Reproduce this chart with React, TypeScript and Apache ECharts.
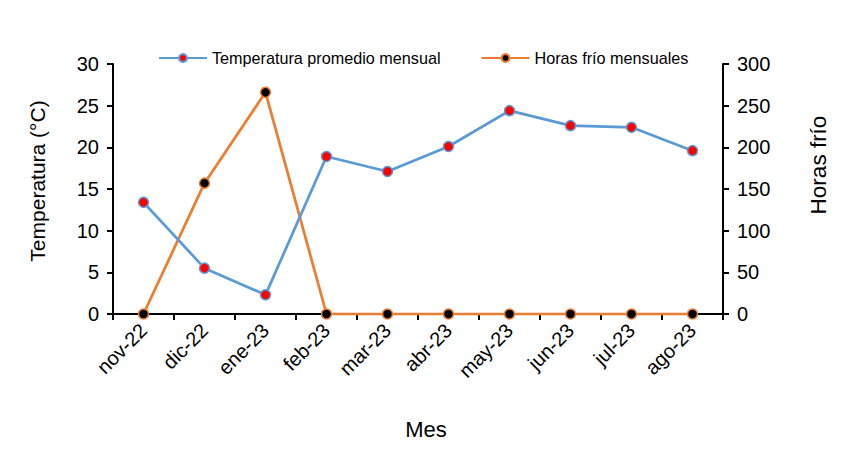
import React, { useEffect, useRef } from "react";
import * as echarts from "echarts";

const months = ["nov-22", "dic-22", "ene-23", "feb-23", "mar-23", "abr-23", "may-23", "jun-23", "jul-23", "ago-23"];
const temperature = [13.4, 5.5, 2.3, 18.9, 17.1, 20.1, 24.4, 22.6, 22.4, 19.6];
const chillHours = [0, 157, 266, 0, 0, 0, 0, 0, 0, 0];

const FONT = "'Liberation Sans', Arial, sans-serif";
const BLUE = "#5B9BD5";
const ORANGE = "#ED7D31";

export default function App() {
  const ref = useRef<HTMLDivElement>(null);

  useEffect(() => {
    if (!ref.current) return;
    const chart = echarts.init(ref.current, undefined, { renderer: "svg" });
    const axisLine = { show: true, lineStyle: { color: "#000", width: 2 } };
    const axisTick = { show: true, length: 6, lineStyle: { color: "#000", width: 2 } };
    const tickLabel = { fontFamily: FONT, fontSize: 20, color: "#000" };
    const titleStyle = (text: string, size: number) => ({
      text,
      fontFamily: FONT,
      fontSize: size,
      fill: "#000",
      align: "center",
      verticalAlign: "middle",
    });
    chart.setOption({
      animation: false,
      backgroundColor: "#fff",
      textStyle: { fontFamily: FONT },
      legend: {
        top: 45,
        left: 153,
        itemWidth: 48,
        itemHeight: 10,
        itemGap: 40,
        textStyle: { fontFamily: FONT, fontSize: 16.2, color: "#000" },
        data: ["Temperatura promedio mensual", "Horas frío mensuales"],
      },
      grid: { left: 113, right: 143, top: 64, bottom: 141 },
      // axis titles
      graphic: [
        { type: "text", x: 426, y: 429, style: titleStyle("Mes", 22) },
        { type: "text", x: 37, y: 181, rotation: Math.PI / 2, style: titleStyle("Temperatura (°C)", 21) },
        { type: "text", x: 818, y: 165, rotation: Math.PI / 2, style: titleStyle("Horas frío", 22.5) },
      ],
      xAxis: {
        type: "category",
        data: months,
        boundaryGap: true,
        axisLine,
        axisTick: { ...axisTick, alignWithLabel: false },
        axisLabel: { ...tickLabel, rotate: 45, margin: 13, interval: 0 },
        splitLine: { show: false },
      },
      yAxis: [
        {
          type: "value",
          min: 0,
          max: 30,
          interval: 5,
          axisLine,
          axisTick,
          axisLabel: { ...tickLabel, margin: 14 },
          splitLine: { show: false },
        },
        {
          type: "value",
          min: 0,
          max: 300,
          interval: 50,
          position: "right",
          axisLine,
          axisTick,
          axisLabel: { ...tickLabel, margin: 14 },
          splitLine: { show: false },
        },
      ],
      series: [
        {
          name: "Temperatura promedio mensual",
          type: "line",
          yAxisIndex: 0,
          data: temperature,
          symbol: "circle",
          symbolSize: 10,
          lineStyle: { color: BLUE, width: 2.75 },
          itemStyle: { color: "#FF0000", borderColor: BLUE, borderWidth: 1.5 },
          z: 3,
        },
        {
          name: "Horas frío mensuales",
          type: "line",
          yAxisIndex: 1,
          data: chillHours,
          symbol: "circle",
          symbolSize: 10,
          lineStyle: { color: ORANGE, width: 2.75 },
          itemStyle: { color: "#000", borderColor: ORANGE, borderWidth: 1.5 },
          z: 2,
        },
      ],
    });
    return () => chart.dispose();
  }, []);

  return (
    <div
      ref={ref}
      style={{ position: "absolute", left: 0, top: 0, width: 866, height: 455 }}
    />
  );
}
